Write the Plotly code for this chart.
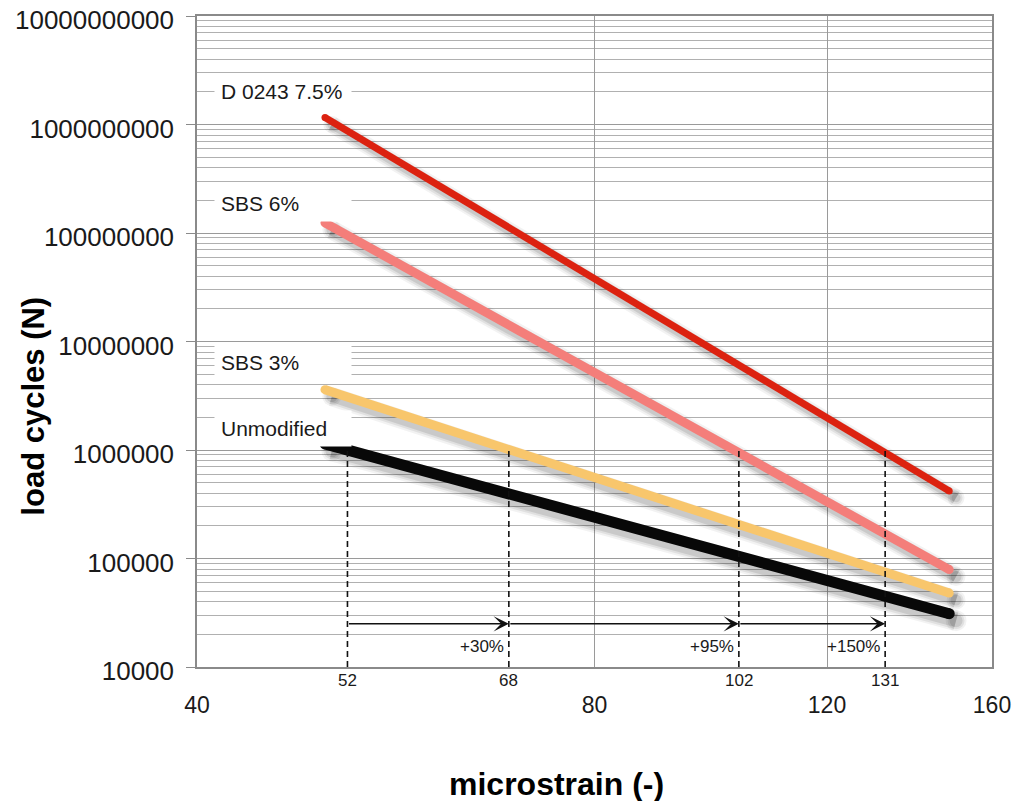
import numpy as np
import plotly.graph_objects as go

# ---------------- data ----------------
strain = [50, 148.5]                      # microstrain range of the fatigue lines
series_names = ["D 0243 7.5%", "SBS 6%", "SBS 3%", "Unmodified"]
cycles_d0243 = [1.16e9, 4.2e5]
cycles_sbs6 = [1.24e8, 7.9e4]
cycles_sbs3 = [3.6e6, 4.8e4]
cycles_unmod = [1.14e6, 3.1e4]

# strains at N = 1 000 000 (where the dashed markers are drawn) and their labels
ref_strains = [52, 68.9, 102.9, 132.8]
ref_labels = ["52", "68", "102", "131"]
ref_cycles = 1e6
arrow_level = 2.5e4
gain_labels = ["+30%", "+95%", "+150%"]
gain_label_level = 1.56e4

x_ticks = [40, 80, 120, 160]
y_ticks = [1e4, 1e5, 1e6, 1e7, 1e8, 1e9, 1e10]
y_ticktext = ["10000", "100000", "1000000", "10000000", "100000000",
              "1000000000", "10000000000"]

colors = ["#dc2210", "#f47e7a", "#f8c66c", "#080808"]
widths = [7, 9, 9, 11]
all_cycles = [cycles_d0243, cycles_sbs6, cycles_sbs3, cycles_unmod]

FONT = "Liberation Sans, Arial, sans-serif"
TXT = "#1a1a1a"

fig = go.Figure()

# soft shadows (drawn first)
for cyc, w in zip(all_cycles, widths):
    sx = [v * 1.012 for v in strain]
    sy = [v / 1.16 for v in cyc]
    for extra, alpha in [(10, 0.05), (6, 0.07), (2, 0.10)]:
        fig.add_trace(go.Scatter(x=sx, y=sy, mode="lines+markers",
                                 line=dict(color=f"rgba(0,0,0,{alpha})", width=w + extra),
                                 marker=dict(color=f"rgba(0,0,0,{alpha})", size=w + extra,
                                             line=dict(width=0)),
                                 hoverinfo="skip", showlegend=False))

# main lines
for name, cyc, c, w in zip(series_names, all_cycles, colors, widths):
    fig.add_trace(go.Scatter(x=strain, y=cyc, mode="lines+markers", name=name,
                             line=dict(color=c, width=w),
                             marker=dict(color=c, size=w, line=dict(width=0)),
                             showlegend=False))

# dashed reference verticals (on top of the lines)
for xs in ref_strains:
    fig.add_trace(go.Scatter(x=[xs, xs], y=[1e4, ref_cycles], mode="lines",
                             line=dict(color="#111111", width=1.6, dash="6px,4px"),
                             hoverinfo="skip", showlegend=False))

annotations = []
# series labels with white boxes
label_y = [0.884, 0.712, 0.468, 0.367]
for name, ly in zip(series_names, label_y):
    annotations.append(dict(text=name, xref="paper", yref="paper", x=0.022, y=ly,
                            xanchor="left", yanchor="middle", showarrow=False,
                            align="left", width=124, bgcolor="white", borderpad=6,
                            font=dict(family=FONT, size=21, color=TXT)))

# arrows between reference strains
for i in range(len(ref_strains) - 1):
    annotations.append(dict(x=np.log10(ref_strains[i + 1]), y=np.log10(arrow_level),
                            ax=np.log10(ref_strains[i]), ay=np.log10(arrow_level),
                            xref="x", yref="y", axref="x", ayref="y", text="",
                            showarrow=True, arrowhead=3, arrowsize=1.7,
                            arrowwidth=1.5, arrowcolor="#111111", standoff=0,
                            startstandoff=0))
    annotations.append(dict(x=np.log10(ref_strains[i + 1]), y=np.log10(gain_label_level),
                            xref="x", yref="y", text=gain_labels[i], showarrow=False,
                            xanchor="right", yanchor="middle", xshift=-3,
                            font=dict(family=FONT, size=17, color=TXT)))

# small strain labels under axis
for xs, lab in zip(ref_strains, ref_labels):
    annotations.append(dict(x=np.log10(xs), y=0, xref="x", yref="paper",
                            text=lab, showarrow=False, xanchor="center",
                            yanchor="top", yshift=-2,
                            font=dict(family=FONT, size=17, color=TXT)))

# axis titles
annotations.append(dict(text="<b>microstrain (-)</b>", xref="paper", yref="paper",
                        x=0.452, y=-0.180, xanchor="center", yanchor="middle",
                        showarrow=False, font=dict(family=FONT, size=32, color="#000")))
annotations.append(dict(text="<b>load cycles (N)</b>", xref="paper", yref="paper",
                        x=-0.205, y=0.40, xanchor="center", yanchor="middle",
                        textangle=-90, showarrow=False,
                        font=dict(family=FONT, size=31, color="#000")))

minor_y = [m * 10 ** d for d in range(4, 10) for m in range(2, 10)]

# page body has an 8px default margin, so the figure is sized/margined to compensate
fig.update_layout(
    width=1028, height=793,
    margin=dict(l=189, r=44, t=8, b=134, autoexpand=False),
    paper_bgcolor="white", plot_bgcolor="white",
    showlegend=False,
    annotations=annotations,
    xaxis=dict(type="log", range=[np.log10(40), np.log10(160)],
               tickvals=x_ticks, ticktext=[str(v) for v in x_ticks],
               showgrid=True, gridcolor="#9a9a9a", gridwidth=1,
               showline=True, linecolor="#8a8a8a", linewidth=1.5, mirror=True,
               ticks="", ticklabelstandoff=17, zeroline=False, automargin=False,
               ticklabeloverflow="allow",
               tickfont=dict(family=FONT, size=23, color=TXT)),
    yaxis=dict(type="log", range=[4, 10],
               tickvals=y_ticks, ticktext=y_ticktext,
               showgrid=True, gridcolor="#9a9a9a", gridwidth=1,
               minor=dict(tickvals=minor_y, showgrid=True, gridcolor="#b0b0b0",
                          gridwidth=1, ticks=""),
               showline=True, linecolor="#8a8a8a", linewidth=1.5, mirror=True,
               ticks="outside", ticklen=9, tickcolor="#8a8a8a", tickwidth=1,
               ticklabelstandoff=7, ticklabelshift=4, zeroline=False,
               automargin=False, ticklabeloverflow="allow",
               tickfont=dict(family=FONT, size=26, color=TXT)),
)

fig.write_html("out.html")
